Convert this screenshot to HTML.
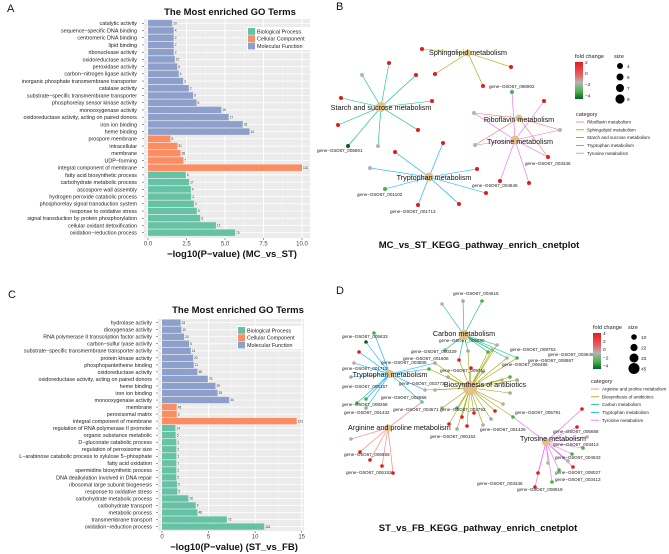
<!DOCTYPE html>
<html><head><meta charset="utf-8"><style>
html,body{margin:0;padding:0;background:#fff;}
svg{display:block;font-family:"Liberation Sans",Arial,sans-serif;}
</style></head><body>
<svg id="fig" width="669" height="554" viewBox="0 0 669 554"></svg>
<script>
// ---------- Panel A data ----------
const goA_terms=["catalytic activity","sequence−specific DNA binding","centromeric DNA binding","lipid binding","ribonuclease activity","oxidoreductase activity","peroxidase activity","carbon−nitrogen ligase activity","inorganic phosphate transmembrane transporter","catalase activity","substrate−specific transmembrane transporter","phosphorelay sensor kinase activity","monooxygenase activity","oxidoreductase activity, acting on paired donors","iron ion binding","heme binding","prospore membrane","intracellular","membrane","UDP−forming","integral component of membrane","fatty acid biosynthetic process","carbohydrate metabolic process","ascospore wall assembly","hydrogen peroxide catabolic process","phosphorelay signal transduction system","response to oxidative stress","signal transduction by protein phosphorylation","cellular oxidant detoxification","oxidation−reduction process"];
const goA_values=[1.57,1.67,1.67,1.67,1.67,1.74,1.9,2.0,2.28,2.65,2.93,3.15,4.76,5.24,6.15,6.59,1.46,1.91,2.11,2.3,10.0,2.46,2.67,2.78,2.8,2.98,3.17,3.39,4.41,5.65];
const goA_counts=[10,4,2,2,2,10,5,4,3,2,9,5,16,17,33,24,5,51,38,7,102,5,17,4,3,3,5,3,12,70];
const goA_cats=["MF","MF","MF","MF","MF","MF","MF","MF","MF","MF","MF","MF","MF","MF","MF","MF","CC","CC","CC","CC","CC","BP","BP","BP","BP","BP","BP","BP","BP","BP"];
const goA_ticks=[0,2.5,5,7.5,10];
const goA_tickLabels=["0.0","2.5","5.0","7.5","10.0"];
// ---------- Panel C data ----------
const goC_terms=["hydrolase activity","dioxygenase activity","RNA polymerase II transcription factor activity","carbon−sulfur lyase activity","substrate−specific transmembrane transporter activity","protein kinase activity","phosphopantetheine binding","oxidoreductase activity","oxidoreductase activity, acting on paired donors","heme binding","iron ion binding","monooxygenase activity","membrane","peroxisomal matrix","integral component of membrane","regulation of RNA polymerase II promoter","organic substance metabolic","D−gluconate catabolic process","regulation of peroxisome size","L−arabinose catabolic process to xylulose 5−phosphate","fatty acid oxidation","spermidine biosynthetic process","DNA dealkylation involved in DNA repair","ribosomal large subunit biogenesis","response to oxidative stress","carbohydrate metabolic process","carbohydrate transport","metabolic process","transmembrane transport","oxidation−reduction process"];
const goC_values=[2.0,2.08,2.37,2.9,3.09,3.34,3.41,3.8,4.92,5.74,5.96,7.21,1.58,1.58,14.46,1.44,1.47,1.54,1.54,1.54,1.54,1.54,1.54,1.61,1.65,2.83,3.62,3.8,6.96,10.98];
const goC_counts=[33,10,24,5,14,22,11,38,75,29,33,34,45,3,223,14,5,2,2,2,7,2,2,5,5,16,9,48,73,118];
const goC_cats=["MF","MF","MF","MF","MF","MF","MF","MF","MF","MF","MF","MF","CC","CC","CC","BP","BP","BP","BP","BP","BP","BP","BP","BP","BP","BP","BP","BP","BP","BP"];
const goC_ticks=[0,5,10,15];
const goC_tickLabels=["0","5","10","15"];

// ---------- Network B data ----------
const netB_hubs=["Sphingolipid metabolism","Starch and sucrose metabolism","Riboflavin metabolism","Tyrosine metabolism","Tryptophan metabolism"];
const netB_hubX=[468,381,519,515,429];
const netB_hubY=[53,107,118,140,177];
const netB_hubColor=["#A3A500","#00BF7D","#F8766D","#E76BF3","#00B0F6"];
const netB_leafX=[422,511,435,483, 389,362,416,341,432,338,418,348,378, 474,560,475,548,512,544,500,529, 443,395,477,370,385,486,418,459];
const netB_leafY=[49,67,74,86, 63,75,75,98,101,125,130,146,146, 113,130,145,157,92,101,181,183, 143,152,169,168,189,193,205,204];
const netB_leafFC=[2,2,2,2, 2,-1.5,2,2,2,2,2,-5,-1.5, -1.5,-1.5,-1.5,2,-3,2,2,2, 2,2,2,-1.5,-3,2,2,2];
const netB_edges=[[0,0],[0,1],[0,2],[0,3],[1,4],[1,5],[1,6],[1,7],[1,8],[1,9],[1,10],[1,11],[1,12],[2,13],[2,14],[2,15],[2,16],[3,13],[3,14],[3,15],[3,16],[3,17],[3,18],[3,19],[3,20],[4,21],[4,22],[4,23],[4,24],[4,25],[4,26],[4,27],[4,28]];
const netB_labels=[["gene−G6O67_086902",489,88],["gene−G6O67_005801",317,152],["gene−G6O67_003346",525,165],["gene−G6O67_004646",472,187],["gene−G6O67_001102",357,196],["gene−G6O67_001713",390,213]];

// ---------- Network D data ----------
const netD_hubs=["Arginine and proline metabolism","Biosynthesis of antibiotics","Carbon metabolism","Tryptophan metabolism","Tyrosine metabolism"];
const netD_hubX=[388,470,464,390,546];
const netD_hubY=[428,388,335,374,442];
const netD_hubR=[3.5,7,5,4,4];
const netD_hubColor=["#F8766D","#A3A500","#00BF7D","#00B0F6","#E76BF3"];
const netD_leafX=[442,463,482,497,492,488,468,459,445,507,517, 374,366,359,354,351,357,366,366,425,422,429,435, 448,471,483,510,517,502,510,503,495,491,483,474,467,462,457,449,457,442,513,435, 351,360,370,382,393, 582,577,587,583,572,568,573,559,552,538,535,548];
const netD_leafY=[304,301,301,345,350,352,351,360,350,358,358, 333,342,352,363,377,403,408,399,390,402,369,363, 377,368,372,377,380,380,393,404,411,419,425,413,426,417,429,424,408,408,417,390, 439,452,460,466,473, 409,427,437,448,454,461,467,470,482,473,487,463];
const netD_leafFC=[-1,-2,-3,-1,-2,-3,-2,4,-2,-1,-3, -3,-6,3,-1,-2,-3,-2,-3,-1,-2,-3,-2, -2,4,-1,-3,-2,-1,-2,-1,3,-2,-1,3,3,3,-2,3,-3,-2,-3,-1, -1,3,3,3,3, 3,3,-1,-3,-3,-1,3,-3,-3,3,3,-1];
const netD_edges=[[2,0],[2,1],[2,2],[2,3],[2,4],[2,5],[2,6],[2,7],[2,8],[2,9],[2,10],[3,11],[3,12],[3,13],[3,14],[3,15],[3,16],[3,17],[3,18],[3,19],[3,20],[3,21],[3,22],[1,23],[1,24],[1,25],[1,26],[1,27],[1,28],[1,29],[1,30],[1,31],[1,32],[1,33],[1,34],[1,35],[1,36],[1,37],[1,38],[1,39],[1,40],[1,41],[1,42],[1,3],[1,4],[1,5],[1,6],[1,7],[1,9],[1,10],[1,21],[1,22],[1,19],[0,43],[0,44],[0,45],[0,46],[0,47],[0,20],[4,48],[4,49],[4,50],[4,51],[4,52],[4,53],[4,54],[4,55],[4,56],[4,57],[4,58],[4,59],[4,41]];
const netD_labels=[["gene−G6O67_004615",453,295],["gene−G6O67_005633",342,338],["gene−G6O67_006880",439,342],["gene−G6O67_009753",510,351],["gene−G6O67_003646",548,356],["gene−G6O67_000329",411,353],["gene−G6O67_001606",403,360],["gene−G6O67_008867",528,362],["gene−G6O67_006486",502,366],["gene−G6O67_003808",381,364],["gene−G6O67_001713",342,370],["gene−G6O67_009711",440,372],["gene−G6O67_003773",399,385],["gene−G6O67_008157",342,388],["gene−G6O67_002866",381,399],["gene−G6O67_008258",342,406],["gene−G6O67_004571",393,411],["gene−G6O67_002762",440,411],["gene−G6O67_005791",515,414],["gene−G6O67_001432",344,414],["gene−G6O67_001426",480,431],["gene−G6O67_000152",430,438],["gene−G6O67_005668",553,433],["gene−G6O67_003413",553,446],["gene−G6O67_004633",555,459],["gene−G6O67_006656",344,456],["gene−G6O67_006152",346,474],["gene−G6O67_008027",555,474],["gene−G6O67_003413",555,481],["gene−G6O67_003346",477,485],["gene−G6O67_008919",517,491]];

const NS="http://www.w3.org/2000/svg";
const svg=document.getElementById('fig');
function mk(tag,attrs,parent){const e=document.createElementNS(NS,tag);for(const k in attrs)e.setAttribute(k,attrs[k]);(parent||svg).appendChild(e);return e;}
function txt(s,attrs,parent){const e=mk('text',attrs,parent);e.textContent=s;return e;}
const catColor={BP:"#66c2a5",CC:"#fc8d62",MF:"#8da0cb"};

function fcColor(v){
  const stops=[[-5,[0,100,30]],[-3,[77,175,74]],[-1.5,[180,180,180]],[0,[200,150,150]],[2,[228,26,28]]];
  if(v<=stops[0][0])return "rgb("+stops[0][1]+")";
  for(let i=1;i<stops.length;i++){if(v<=stops[i][0]){const a=stops[i-1],b=stops[i];const t=(v-a[0])/(b[0]-a[0]);return "rgb("+a[1].map((c,j)=>Math.round(c+(b[1][j]-c)*t)).join(",")+")";}}
  return "rgb(228,26,28)";
}

function barChart(cfg){
  const g=mk('g',{});  
  const xs=v=>cfg.x0+(v/cfg.unitMax)*(cfg.x1-cfg.x0);
  const ys=i=>cfg.row0+i*cfg.step;
  const bg=mk('rect',{x:cfg.bgX,y:cfg.bgY,width:cfg.bgW,height:cfg.bgH,fill:"#ebebeb"},g);
   
  for(let i=0;i<cfg.ticks.length-1;i++){const m=(cfg.ticks[i]+cfg.ticks[i+1])/2;mk('line',{x1:xs(m),x2:xs(m),y1:cfg.bgY,y2:cfg.bgY+cfg.bgH,stroke:"#f5f5f5","stroke-width":0.5},g);}
  const last=cfg.ticks[cfg.ticks.length-1],stepT=cfg.ticks[1]-cfg.ticks[0];
  if(xs(last+stepT/2)<cfg.bgX+cfg.bgW)mk('line',{x1:xs(last+stepT/2),x2:xs(last+stepT/2),y1:cfg.bgY,y2:cfg.bgY+cfg.bgH,stroke:"#f5f5f5","stroke-width":0.5},g);
  cfg.ticks.forEach((t,i)=>{
    mk('line',{x1:xs(t),x2:xs(t),y1:cfg.bgY,y2:cfg.bgY+cfg.bgH,stroke:"#fff","stroke-width":1},g);
    mk('line',{x1:xs(t),x2:xs(t),y1:cfg.bgY+cfg.bgH,y2:cfg.bgY+cfg.bgH+2,stroke:"#333","stroke-width":0.5},g);
    const tl=txt(cfg.tickLabels[i],{x:xs(t),y:cfg.bgY+cfg.bgH+7.5,"font-size":6,fill:"#444","text-anchor":"middle"},g);
     
  });
  cfg.terms.forEach((term,i)=>{
    const y=ys(i);
    mk('line',{x1:cfg.bgX,x2:cfg.bgX+cfg.bgW,y1:y,y2:y,stroke:"#fff","stroke-width":0.8},g);
    const b=mk('rect',{x:xs(0),y:y-cfg.step*0.45,width:xs(cfg.values[i])-xs(0),height:cfg.step*0.9,fill:catColor[cfg.cats[i]]},g);
     
    const c=txt(String(cfg.counts[i]),{x:xs(cfg.values[i])+1,y:y+1.2,"font-size":3.2,fill:"#333"},g);
     
    mk('line',{x1:cfg.bgX-2,x2:cfg.bgX,y1:y,y2:y,stroke:"#333","stroke-width":0.5},g);
    const l=txt(term,{x:cfg.labelX,y:y+1.9,"font-size":5.4,fill:"#222","text-anchor":"end"},g);
     
  });
  const t=txt("The Most enriched GO Terms",{x:cfg.titleX,y:cfg.titleY,"font-size":9.5,"font-weight":"bold","text-anchor":"middle",fill:"#111"},g);
   
  const at=txt(cfg.axisTitle,{x:cfg.axisX,y:cfg.axisY,"font-size":9.5,"font-weight":"bold","text-anchor":"middle",fill:"#111"},g);
   
  const lg=mk('g',{},g);  
  mk('rect',{x:cfg.legX-1,y:cfg.legY-1,width:66,height:23,fill:"#fff"},lg);
  [["Biological Process","BP"],["Cellular Component","CC"],["Molecular Function","MF"]].forEach((e,i)=>{
    const eg=mk('g',{},lg);  
    mk('rect',{x:cfg.legX,y:cfg.legY+i*7.3,width:7,height:6.8,fill:catColor[e[1]]},eg);
    txt(e[0],{x:cfg.legX+9,y:cfg.legY+i*7.3+5.3,"font-size":5.4,fill:"#222"},eg);
  });
}

barChart({name:"go-bar-chart-a",terms:goA_terms,values:goA_values,counts:goA_counts,cats:goA_cats,ticks:goA_ticks,tickLabels:goA_tickLabels,
  x0:148,x1:302,unitMax:10,row0:23.3,step:7.22,bgX:144,bgY:19,bgW:166,bgH:219,labelX:137,
  titleX:230,titleY:15,axisTitle:"−log10(P−value) (MC_vs_ST)",axisX:232,axisY:257,legX:248,legY:28});
barChart({name:"go-bar-chart-c",terms:goC_terms,values:goC_values,counts:goC_counts,cats:goC_cats,ticks:goC_ticks,tickLabels:goC_tickLabels,
  x0:162,x1:301.7,unitMax:15,row0:322.7,step:7.03,bgX:158,bgY:319,bgW:146,bgH:212,labelX:152,
  titleX:238,titleY:313,axisTitle:"−log10(P−value) (ST_vs_FB)",axisX:234,axisY:550,legX:238,legY:327});

function network(cfg){
  const g=mk('g',{});  
  cfg.edges.forEach(e=>{
    const l=mk('line',{x1:cfg.hubX[e[0]],y1:cfg.hubY[e[0]],x2:cfg.leafX[e[1]],y2:cfg.leafY[e[1]],stroke:cfg.hubColor[e[0]],"stroke-width":0.6},g);
     
  });
  cfg.leafX.forEach((x,i)=>{
    const c=mk('circle',{cx:x,cy:cfg.leafY[i],r:cfg.leafR,fill:fcColor(cfg.leafFC[i])},g);
     
  });
  cfg.labels.forEach(l=>{
    const t=txt(l[0],{x:l[1],y:l[2],"font-size":4.6,fill:"#222"},g);
     
  });
  cfg.hubs.forEach((h,i)=>{
    const c=mk('circle',{cx:cfg.hubX[i],cy:cfg.hubY[i],r:cfg.hubR[i],fill:"#e6bf86"},g);
     
  });
  cfg.hubLabels.forEach(l=>{
    const t=txt(l[0],{x:l[1],y:l[2],"font-size":7.2,fill:"#111","text-anchor":l[3]||"middle"},g);
     
  });
  const lg=mk('g',{},g);  
  const L=cfg.leg;
  txt("fold change",{x:L.fx,y:L.fy,"font-size":5.6,fill:"#222"},lg);
  const gid=cfg.name+"-grad";
  const defs=mk('defs',{},lg);const gr=mk('linearGradient',{id:gid,x1:0,y1:0,x2:0,y2:1},defs);
  [["0","#e41a1c"],["0.35","#e86060"],["0.55","#b4b4b4"],["0.8","#4daf4a"],["1","#00642a"]].forEach(s=>mk('stop',{offset:s[0],"stop-color":s[1]},gr));
  mk('rect',{x:L.fx,y:L.fy+4,width:8,height:L.barH,fill:"url(#"+gid+")"},lg);
  L.fcTicks.forEach((t,i)=>txt(t,{x:L.fx+10,y:L.fy+6+i*L.barH/(L.fcTicks.length-1)*0.9,"font-size":4.8,fill:"#222"},lg));
  txt("size",{x:L.sx,y:L.fy,"font-size":5.6,fill:"#222"},lg);
  L.sizes.forEach((s,i)=>{mk('circle',{cx:L.sx+6,cy:L.fy+8+i*L.sStep,r:L.sr[i],fill:"#000"},lg);txt(s,{x:L.sx+13,y:L.fy+10+i*L.sStep,"font-size":4.8,fill:"#222"},lg);});
  txt("category",{x:L.cx,y:L.cy,"font-size":5.6,fill:"#222"},lg);
  L.cats.forEach((c,i)=>{
    const eg=mk('g',{},lg);  
    mk('line',{x1:L.cx,x2:L.cx+8,y1:L.cy+6+i*7.8,y2:L.cy+6+i*7.8,stroke:L.catColors[i],"stroke-width":0.8},eg);
    txt(c,{x:L.cx+11,y:L.cy+7.6+i*7.8,"font-size":4.5,fill:"#222"},eg);
  });
  const t=txt(cfg.title,{x:cfg.titleX,y:cfg.titleY,"font-size":9.5,"font-weight":"bold","text-anchor":"middle",fill:"#111"},g);
   
}

network({name:"kegg-network-b",hubs:netB_hubs,hubX:netB_hubX,hubY:netB_hubY,hubR:[3.5,5,3.5,4.5,4.5],hubColor:netB_hubColor,
  leafX:netB_leafX,leafY:netB_leafY,leafFC:netB_leafFC,leafR:2,edges:netB_edges,labels:netB_labels,
  hubLabels:[["Sphingolipid metabolism",468,55],["Starch and sucrose metabolism",381,110],["Riboflavin metabolism",519,122],["Tyrosine metabolism",520,144],["Tryptophan metabolism",434,180]],
  leg:{fx:575,fy:58,barH:37,fcTicks:["2","0","−2","−4"],sx:614,sizes:["4","6","7","9"],sr:[3,3.5,4,4.6],sStep:11,cx:576,cy:116,
    cats:["Riboflavin metabolism","Sphingolipid metabolism","Starch and sucrose metabolism","Tryptophan metabolism","Tyrosine metabolism"],catColors:["#F8766D","#A3A500","#00BF7D","#00B0F6","#E76BF3"]},
  title:"MC_vs_ST_KEGG_pathway_enrich_cnetplot",titleX:479,titleY:248});

network({name:"kegg-network-d",hubs:netD_hubs,hubX:netD_hubX,hubY:netD_hubY,hubR:netD_hubR,hubColor:netD_hubColor,
  leafX:netD_leafX,leafY:netD_leafY,leafFC:netD_leafFC,leafR:1.8,edges:netD_edges,labels:netD_labels,
  hubLabels:[["Carbon metabolism",464,336],["Tryptophan metabolism",390,377],["Biosynthesis of antibiotics",485,387],["Arginine and proline metabolism",348,430,"start"],["Tyrosine metabolism",520,441,"start"]],
  leg:{fx:593,fy:329,barH:36,fcTicks:["4","2","0","−2","−4"],sx:628,sizes:["10","22","33","45"],sr:[2.8,3.6,4.5,5.5],sStep:10.5,cx:591,cy:383,
    cats:["Arginine and proline metabolism","Biosynthesis of antibiotics","Carbon metabolism","Tryptophan metabolism","Tyrosine metabolism"],catColors:["#F8766D","#A3A500","#00BF7D","#00B0F6","#E76BF3"]},
  title:"ST_vs_FB_KEGG_pathway_enrich_cnetplot",titleX:478,titleY:531});

[["A",7,12],["B",336,10],["C",8,298],["D",336,294]].forEach(p=>{
  const t=txt(p[0],{x:p[1],y:p[2],"font-size":11,fill:"#111"});
   
});
</script>
</body></html>
